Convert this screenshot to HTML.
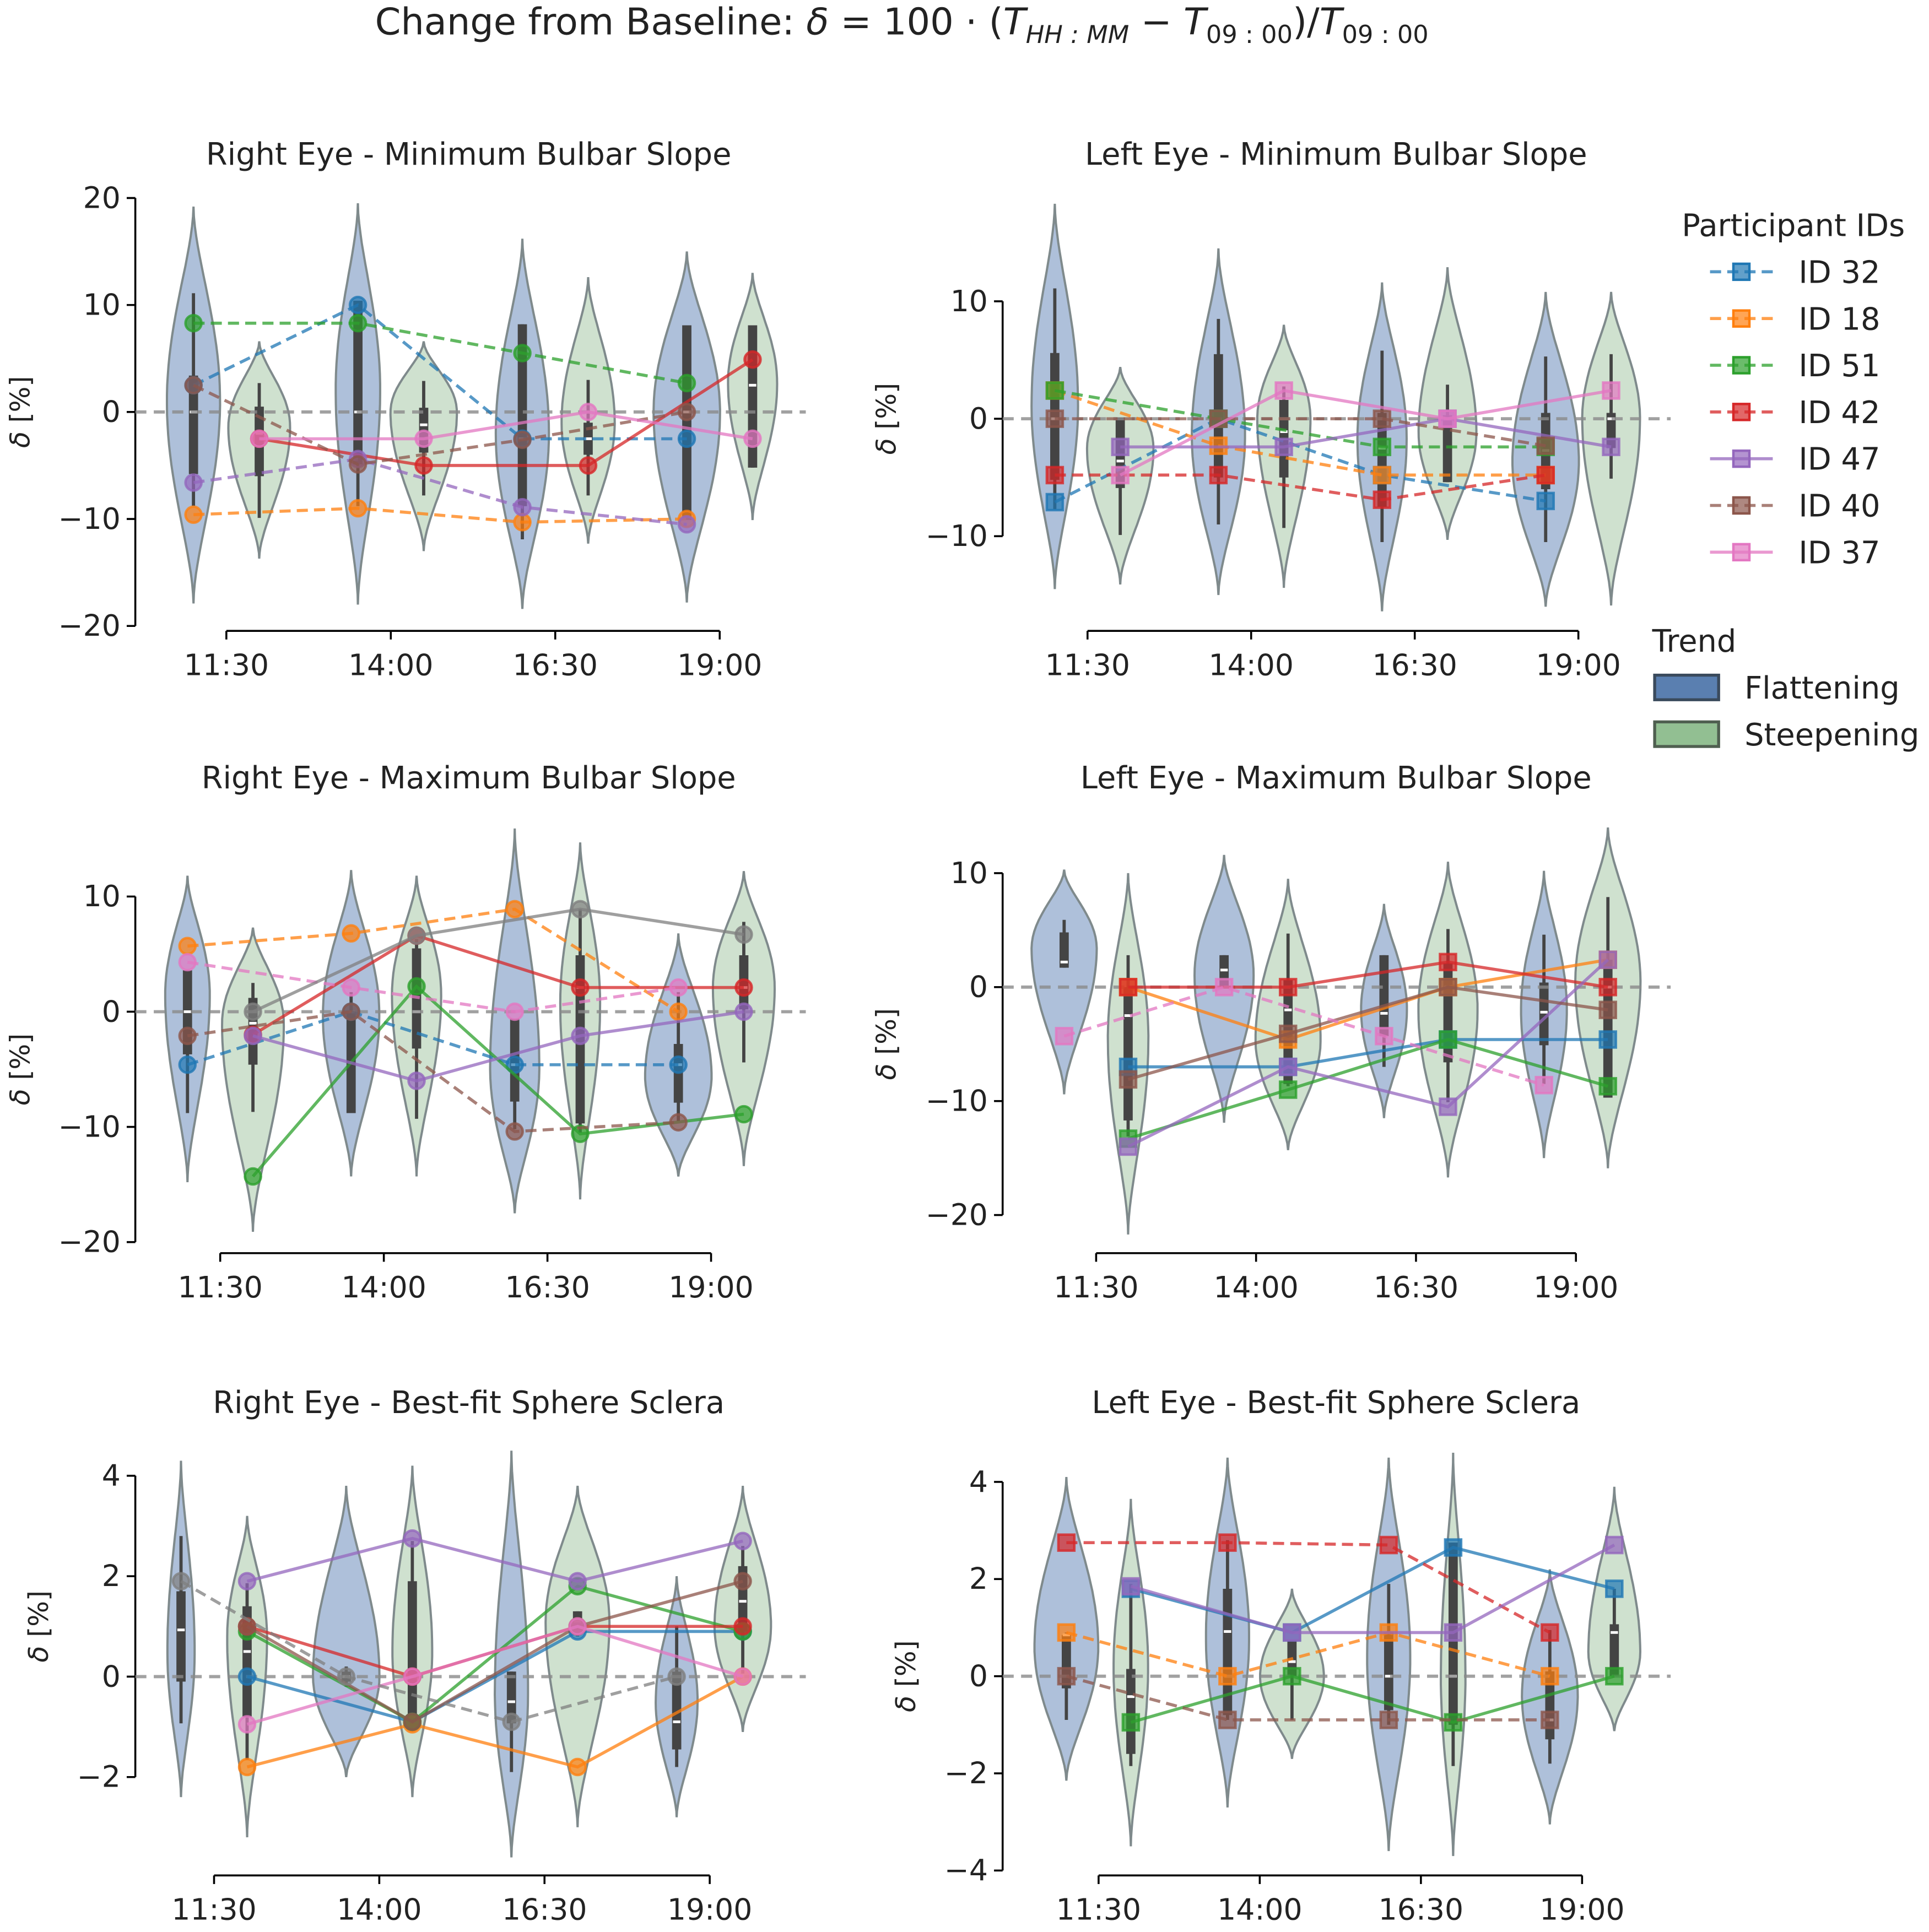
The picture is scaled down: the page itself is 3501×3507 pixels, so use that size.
<!DOCTYPE html>
<html><head><meta charset="utf-8"><style>
html,body{margin:0;padding:0;background:#fff;}
svg{display:block;}
text{font-family:"DejaVu Sans","Liberation Sans",sans-serif;fill:#222;}
</style></head><body>
<svg id="chart" xmlns="http://www.w3.org/2000/svg" width="3501" height="3507" viewBox="0 0 1568 1571" preserveAspectRatio="none">
<text x="733" y="28" font-size="30" text-anchor="middle">Change from Baseline: <tspan font-style="italic">δ</tspan> = 100 · (<tspan font-style="italic">T</tspan><tspan font-style="italic" font-size="20" dy="7">HH : MM</tspan><tspan dy="-7"> − </tspan><tspan font-style="italic">T</tspan><tspan font-size="20" dy="7">09 : 00</tspan><tspan dy="-7">)/</tspan><tspan font-style="italic">T</tspan><tspan font-size="20" dy="7">09 : 00</tspan></text>
<g id="panels"></g>
<g id="legend"></g>
</svg>
<script>
const panelTitles = ["Right Eye - Minimum Bulbar Slope","Left Eye - Minimum Bulbar Slope","Right Eye - Maximum Bulbar Slope","Left Eye - Maximum Bulbar Slope","Right Eye - Best-fit Sphere Sclera","Left Eye - Best-fit Sphere Sclera"];
const timeLabels = ["11:30","14:00","16:30","19:00"];
const timeHours = [11.5,14,16.5,19];
const violinOffsetHours = [-0.5,0.5];
const yTicks = [[-20,-10,0,10,20],[-10,0,10],[-20,-10,0,10],[-20,-10,0,10],[-2,0,2,4],[-4,-2,0,2,4]];
const vMax = [[19.2,6.6,19.5,6.6,16.2,12.6,15,13],[18.3,4.4,14.5,8,11.6,12.9,10.8,10.8],[11.8,7.3,12.3,11.8,15.9,14.7,6.8,12.2],[10.3,10,11.6,9.5,7.3,11,10.2,14],[4.3,3.2,3.8,4.2,4.5,3.8,2,3.8],[4.1,3.65,4.5,1.8,4.5,4.6,2.2,3.9]];
const vMin = [[-17.9,-13.7,-18,-13,-18.4,-12.3,-17.8,-10.1],[-14.5,-14.1,-15,-14.4,-16.4,-10.3,-16,-15.9],[-14.8,-19.1,-14.3,-14.3,-17.5,-16.3,-14.3,-13.4],[-9.4,-21.7,-11.9,-14.3,-11.5,-16.7,-15,-15.9],[-2.4,-3.2,-2,-2.4,-3.6,-3,-2.8,-1.1],[-2.15,-3.5,-2.7,-1.7,-3.6,-3.7,-3.05,-1.13]];
const vMode = [[1,-1.4,2,0,-2,-1,0,2.7],[1.2,-2.5,-1.5,0,-1.7,-1.2,-3.7,0],[1.5,-1,-0.3,1.5,-4.9,0.7,-5.6,2.1],[3.4,-4.6,1,-4.6,-2,-2,-2,0.5],[0.5,0.8,0,0.5,-0.3,1.1,-0.5,1],[0.6,0.2,0.8,0,0.4,0,-0.4,0.5]];
const vDensity = [[0.8,0.93,0.67,1,0.8,0.8,1,0.74],[0.7,1,0.8,0.8,0.74,0.87,1,0.87],[0.67,0.93,0.85,0.74,0.74,0.6,1,0.93],[0.98,0.61,0.89,0.98,0.69,0.89,0.69,0.98],[0.41,0.6,1,0.6,0.5,0.96,0.63,0.85],[0.96,0.52,0.65,0.96,0.65,0.37,0.84,0.78]];
const wHi = [[11.1,2.7,10.1,2.9,8.2,3,8.1,8.1],[11.1,0.1,8.5,2.75,5.8,2.9,5.3,5.5],[3.6,2.5,1.7,6.3,-0.6,8.9,1.7,7.8],[5.9,2.8,2.8,4.7,2.8,5.1,4.6,7.9],[2.8,1.86,0.2,2.7,0.1,1.3,1,2.6],[0.9,1.9,2.8,0.74,1.9,2.75,0.95,1.8]];
const wLo = [[-8.8,-9.9,-8.8,-7.8,-11.9,-7.8,-10.1,-5.2],[-7.7,-9.9,-9,-9.3,-10.5,-5.4,-10.5,-5.1],[-8.8,-8.7,-8.8,-9.3,-10.2,-10.5,-9.5,-4.4],[1.7,-13.1,0,-8.7,-7,-10.1,-8.5,-9.7],[-0.93,-1.66,-0.2,-0.9,-1.9,0.8,-1.8,0.06],[-0.9,-1.85,-0.9,-0.9,-1,-1.85,-1.8,0]];
const bQ3 = [[3.4,0.5,10.4,0.4,8.2,-1,8.1,8.1],[5.6,0.1,5.5,1.6,0.5,0.3,0.5,0.5],[3.6,1.2,0,5.5,-0.6,4.9,-2.8,4.9],[4.8,0,2.8,0.6,2.8,2.1,0.4,2.4],[1.7,1.4,0.1,1.9,0.1,1.3,0.1,2.2],[0.85,0.15,1.8,0.74,0.9,2.75,0.1,1.07]];
const bQ1 = [[-5.8,-6,-4.9,-3.8,-8.8,-4,-10.1,-5.2],[-5.2,-5.9,-5,-5,-7.5,-5.4,-6,-2.5],[-3.7,-4.6,-8.8,-3.2,-7.8,-9.7,-7.9,0.2],[1.7,-11.7,0,-8.5,-4.3,-6.6,-5.1,-9.7],[-0.1,-0.8,-0.1,-0.8,-0.93,0.9,-1.45,0.9],[-0.25,-1.6,-0.8,0,-0.7,-1,-1.3,0]];
const vMedian = [[0,-2,0,-1.2,-2.5,-2.5,0,2.5],[0,-3.6,0,-1.1,-2.5,0,-2.7,0],[0,-1,0,0,-4.6,2.1,-4.6,2.1],[2.2,-2.5,1.5,-2,-2.3,0,-2.2,0],[0.93,0.5,0,0,-0.5,1.1,-0.9,1.5],[0.85,-0.42,0.92,0.3,0,0,-0.9,0.9]];
const idNames = ["ID 32","ID 18","ID 51","ID 42","ID 47","ID 40","ID 37","ID extra"];
const idColors = ["#1f77b4","#ff7f0e","#2ca02c","#d62728","#9467bd","#8c564b","#e377c2","#7f7f7f"];
const seriesTrend = [[0,0,0,1,0,0,1,-1],[0,0,0,0,1,0,1,-1],[0,0,1,1,1,0,0,1],[1,1,1,1,1,1,0,-1],[1,1,1,1,1,1,1,0],[1,0,1,0,1,0,-1,-1]];
const seriesVals = [
 [[2.5,10,-2.5,-2.5],[-9.6,-9,-10.3,-10],[8.3,8.3,5.5,2.7],[-2.5,-5,-5,4.9],[-6.6,-4.4,-8.9,-10.5],[2.5,-4.9,-2.6,0],[-2.5,-2.5,0,-2.5],null],
 [[-7.1,0,-4.8,-7],[2.4,-2.3,-4.8,-4.8],[2.4,0,-2.4,-2.4],[-4.8,-4.8,-6.9,-4.8],[-2.4,-2.4,0,-2.4],[0,0,0,-2.3],[-4.8,2.4,0,2.4],null],
 [[-4.6,0,-4.6,-4.6],[5.7,6.8,8.9,0],[-14.3,2.2,-10.6,-8.9],[-2,6.6,2.1,2.1],[-2.1,-6,-2.1,0],[-2.1,0,-10.4,-9.6],[4.3,2.1,0,2.1],[0,6.6,8.9,6.7]],
 [[-7,-7,-4.6,-4.6],[0,-4.6,0,2.4],[-13.3,-9,-4.6,-8.7],[0,0,2.2,0],[-14,-7,-10.5,2.4],[-8.1,-4.1,0,-2],[-4.3,0,-4.3,-8.6],null],
 [[0,-0.9,0.9,0.9],[-1.8,-0.95,-1.8,0],[0.9,-0.9,1.8,0.9],[1,0,1,1],[1.9,2.75,1.9,2.7],[1,-0.9,1,1.9],[-0.95,0,1,0],[1.9,0,-0.9,0]],
 [[1.8,0.9,2.65,1.8],[0.9,0,0.9,0],[-0.95,0,-0.95,0],[2.75,2.75,2.7,0.9],[1.85,0.9,0.9,2.7],[0,-0.9,-0.9,-0.9],null,null]
];
const legendDashed = [true,true,true,true,false,true,false];

const geo = [
 {ax:110,xy:513,va:20,pa:161,vb:-20,pb:509,t0:184,ts:133.67,ze:655,ty:125,tc:381,lx:16},
 {ax:815,xy:513,va:10,pa:245,vb:-10,pb:436,t0:884,ts:133,ze:1358,ty:125,tc:1086,lx:720},
 {ax:110,xy:1019,va:10,pa:729,vb:-20,pb:1010,t0:179,ts:133,ze:655,ty:632,tc:381,lx:16},
 {ax:815,xy:1019,va:10,pa:710,vb:-20,pb:988,t0:891,ts:130,ze:1358,ty:632,tc:1086,lx:720},
 {ax:110,xy:1525,va:4,pa:1200,vb:-2,pb:1445,t0:174,ts:134.3,ze:655,ty:1140,tc:381,lx:31},
 {ax:815,xy:1525,va:4,pa:1205,vb:-4,pb:1521,t0:893,ts:131,ze:1358,ty:1140,tc:1086,lx:736}
];
const NS="http://www.w3.org/2000/svg";
function mk(tag,attrs,parent){const e=document.createElementNS(NS,tag);for(const k in attrs)e.setAttribute(k,attrs[k]);if(parent)parent.appendChild(e);return e;}
const root=document.getElementById('panels');
const VIOLIN_MAX_HW=27;

for(let p=0;p<6;p++){
  const g=geo[p];
  const yS=v=>g.pa+(v-g.va)*(g.pb-g.pa)/(g.vb-g.va);
  const pxPerHour=g.ts/2.5;
  const xS=h=>g.t0+(h-timeHours[0])*pxPerHour;
  const grp=mk('g',{},root);
  
  
  const tt=mk('text',{x:g.tc,y:g.ty+9,'font-size':25,'text-anchor':'middle'},grp);
  tt.textContent=panelTitles[p];
  
  
  const yt=yTicks[p];
  const yax=mk('line',{x1:g.ax,x2:g.ax,y1:yS(yt[yt.length-1]),y2:yS(yt[0]),stroke:'#000','stroke-width':1.6},grp);
  
  
  yt.forEach(v=>{
    mk('line',{x1:g.ax-7,x2:g.ax,y1:yS(v),y2:yS(v),stroke:'#000','stroke-width':1.6},grp);
    const t=mk('text',{x:g.ax-12,y:yS(v)+8,'font-size':24,'text-anchor':'end'},grp);
    t.textContent=(v<0?'−':'')+Math.abs(v);
    
    
  });
  const ylab=mk('text',{x:0,y:0,'font-size':22,'text-anchor':'middle',transform:`translate(${g.lx+8},${(yS(yt[0])+yS(yt[yt.length-1]))/2}) rotate(-90)`},grp);
  ylab.innerHTML='<tspan font-style="italic">δ</tspan> [%]';
  
  
  const xax=mk('line',{x1:xS(timeHours[0]),x2:xS(timeHours[3]),y1:g.xy,y2:g.xy,stroke:'#000','stroke-width':1.6},grp);
  
  
  timeHours.forEach((h,i)=>{
    mk('line',{x1:xS(h),x2:xS(h),y1:g.xy,y2:g.xy+7,stroke:'#000','stroke-width':1.6},grp);
    const t=mk('text',{x:xS(h),y:g.xy+36,'font-size':24,'text-anchor':'middle'},grp);
    t.textContent=timeLabels[i];
    
    
  });
  for(let k=0;k<8;k++){
    const ti=Math.floor(k/2), side=k%2;
    const cx=xS(timeHours[ti]+violinOffsetHours[side]);
    const top=yS(vMax[p][k]), bot=yS(vMin[p][k]), mode=yS(vMode[p][k]);
    const hw=vDensity[p][k]*VIOLIN_MAX_HW;
    const N=40, right=[], left=[];
    for(let i=0;i<=N;i++){
      const y=top+(bot-top)*i/N;
      let d = y<mode ? (mode-y)/(mode-top) : (y-mode)/(bot-mode);
      d=Math.min(1,Math.max(0,d));
      const w=hw*Math.pow(1-d*d,1.8);
      right.push([cx+w,y]); left.push([cx-w,y]);
    }
    const pts=right.concat(left.reverse());
    const dstr='M'+pts.map(q=>q[0].toFixed(1)+','+q[1].toFixed(1)).join('L')+'Z';
    const vp=mk('path',{d:dstr,fill:side===0?'#aec0da':'#cfe1cf',stroke:'#7f8a8c','stroke-width':1.8},grp);
    
    
    const wh=mk('line',{x1:cx,x2:cx,y1:yS(wHi[p][k]),y2:yS(wLo[p][k]),stroke:'#444','stroke-width':2.6},grp);
    
    
    const bx=mk('line',{x1:cx,x2:cx,y1:yS(bQ3[p][k]),y2:yS(bQ1[p][k]),stroke:'#444','stroke-width':7.5},grp);
    
    
    const md=mk('line',{x1:cx-3,x2:cx+3,y1:yS(vMedian[p][k]),y2:yS(vMedian[p][k]),stroke:'#fff','stroke-width':2.2},grp);
    
    
  }
  const zl=mk('line',{x1:g.ax,x2:g.ze,y1:yS(0),y2:yS(0),stroke:'#8a8a8a','stroke-width':2.6,'stroke-dasharray':'9,6','stroke-opacity':0.8},grp);
  
  
  const square = (p%2===1);
  for(let s=0;s<idNames.length;s++){
    const vals=seriesVals[p][s];
    if(!vals||seriesTrend[p][s]<0) continue;
    const tr=seriesTrend[p][s];
    const pts=vals.map((v,i)=>[xS(timeHours[i]+violinOffsetHours[tr]),yS(v)]);
    const sg=mk('g',{},grp);
    
    
    const pl=mk('polyline',{points:pts.map(q=>q[0].toFixed(1)+','+q[1].toFixed(1)).join(' '),fill:'none',stroke:idColors[s],'stroke-width':2.5,'stroke-opacity':0.75},sg);
    if(tr===0) pl.setAttribute('stroke-dasharray','9,5');
    
    
    pts.forEach(q=>{
      let m;
      if(square) m=mk('rect',{x:q[0]-6.5,y:q[1]-6.5,width:13,height:13,fill:idColors[s],'fill-opacity':0.7,stroke:idColors[s],'stroke-opacity':0.8,'stroke-width':2},sg);
      else m=mk('circle',{cx:q[0],cy:q[1],r:6.5,fill:idColors[s],'fill-opacity':0.7,stroke:idColors[s],'stroke-opacity':0.8,'stroke-width':2},sg);
      
      
    });
  }
}
const lg=document.getElementById('legend');
const lt=mk('text',{x:1367,y:192,'font-size':25},lg);
lt.textContent='Participant IDs';


for(let s=0;s<7;s++){
  const y=221+38*s;
  const eg=mk('g',{},lg);
  
  
  const l=mk('line',{x1:1390,x2:1441,y1:y,y2:y,stroke:idColors[s],'stroke-width':2.5,'stroke-opacity':0.75},eg);
  if(legendDashed[s]) l.setAttribute('stroke-dasharray','9,5');
  mk('rect',{x:1409,y:y-6.5,width:13,height:13,fill:idColors[s],'fill-opacity':0.7,stroke:idColors[s],'stroke-width':2},eg);
  const t=mk('text',{x:1462,y:y+9,'font-size':25},eg);
  t.textContent=idNames[s];
}
const tt2=mk('text',{x:1343,y:530,'font-size':25},lg);
tt2.textContent='Trend';


[['Flattening','#5a7fb0','#3a4a5c',559],['Steepening','#92bf92','#4f5f50',597]].forEach(e=>{
  const eg=mk('g',{},lg);
  
  
  mk('rect',{x:1345,y:e[3]-10,width:52,height:20,fill:e[1],stroke:e[2],'stroke-width':2.4},eg);
  const t=mk('text',{x:1418,y:e[3]+9,'font-size':25},eg);
  t.textContent=e[0];
});
</script>
</body></html>
